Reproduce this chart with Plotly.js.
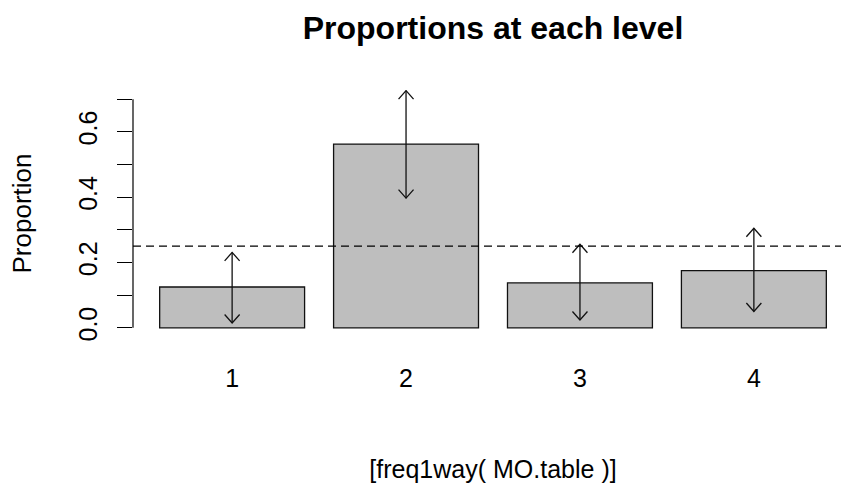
<!DOCTYPE html>
<html>
<head>
<meta charset="utf-8">
<script src="https://cdn.plot.ly/plotly-3.0.1.min.js"></script>
<style>
  html, body { margin: 0; padding: 0; overflow: hidden; background: #ffffff; }
  #chart { width: 860px; height: 487px; }
</style>
</head>
<body>
<div id="chart"></div>
<script>
// ---- data ----
var levels = ["1", "2", "3", "4"];
var proportions = [0.125, 0.5625, 0.1375, 0.175];
var ciLower = [0.015, 0.397, 0.024, 0.050];
var ciUpper = [0.231, 0.726, 0.256, 0.305];
var nullProportion = [0.25];
var yTickValues = [0, 0.1, 0.2, 0.3, 0.4, 0.5, 0.6, 0.7];
var yTickLabels = ["0.0", "", "0.2", "", "0.4", "", "0.6", ""];

// ---- layout constants (R barplot geometry: width 1, space 0.2) ----
var FIG_W = 860, FIG_H = 487;
var M = { l: 133, r: 7, t: 90, b: 150 };
var barWidth = 1, barSpace = 0.2;
var xCenters = levels.map(function (_, i) { return barSpace + barWidth / 2 + i * (barWidth + barSpace); });
var xLo = barSpace, xHi = levels.length * (barWidth + barSpace);
var xPad = 0.04 * (xHi - xLo);
var xRange = [xLo - xPad, xHi + xPad];
var yLo = 0, yHi = yTickValues[yTickValues.length - 1];
var yPad = 0.04 * (yHi - yLo);
var yRange = [yLo - yPad, yHi + yPad];

var pxPerX = (FIG_W - M.l - M.r) / (xRange[1] - xRange[0]);
var pxPerY = (FIG_H - M.t - M.b) / (yRange[1] - yRange[0]);
var headHalfW = 7.5 / pxPerX;   // arrow head half width (data units)
var headLen = 8.5 / pxPerY;     // arrow head length (data units)

var FONT = "Liberation Sans, Arial, sans-serif";

// arrows (code = 3: heads at both ends)
var ax = [], ay = [];
for (var i = 0; i < levels.length; i++) {
  var x = xCenters[i], lo = ciLower[i], hi = ciUpper[i];
  ax.push(x, x, null); ay.push(lo, hi, null);
  ax.push(x - headHalfW, x, x + headHalfW, null); ay.push(hi - headLen, hi, hi - headLen, null);
  ax.push(x - headHalfW, x, x + headHalfW, null); ay.push(lo + headLen, lo, lo + headLen, null);
}

var traces = [
  {
    type: "bar",
    x: xCenters,
    y: proportions,
    width: barWidth,
    marker: { color: "#BEBEBE", line: { color: "#111111", width: 1.3 } },
    hoverinfo: "skip",
    showlegend: false
  },
  {
    type: "scatter",
    mode: "lines",
    x: ax,
    y: ay,
    line: { color: "#111111", width: 1.3 },
    hoverinfo: "skip",
    showlegend: false,
    cliponaxis: false
  }
];

var layout = {
  width: FIG_W,
  height: FIG_H,
  margin: M,
  paper_bgcolor: "#ffffff",
  plot_bgcolor: "#ffffff",
  font: { family: FONT, size: 25, color: "#000000" },
  showlegend: false,
  title: {
    text: "<b>Proportions at each level</b>",
    font: { family: FONT, size: 32, color: "#000000" },
    xref: "paper", x: 0.5, xanchor: "center",
    yref: "container", y: 1 - 28 / FIG_H, yanchor: "middle"
  },
  xaxis: {
    range: xRange,
    showgrid: false, zeroline: false, showline: false,
    tickmode: "array", tickvals: xCenters, ticktext: levels,
    ticks: "outside", ticklen: 19, tickcolor: "rgba(0,0,0,0)",
    tickfont: { family: FONT, size: 25, color: "#000000" },
    title: { text: "[freq1way( MO.table )]", font: { family: FONT, size: 25, color: "#000000" }, standoff: 69 },
    automargin: false,
    fixedrange: true
  },
  yaxis: {
    range: yRange,
    showgrid: false, zeroline: false, showline: false,
    tickmode: "array", tickvals: yTickValues, ticktext: yTickLabels,
    ticks: "outside", ticklen: 15, tickwidth: 1, tickcolor: "#000000",
    ticklabelstandoff: 10,
    tickangle: -90,
    tickfont: { family: FONT, size: 25, color: "#000000" },
    title: { text: "Proportion", font: { family: FONT, size: 26, color: "#000000" }, standoff: 34 },
    automargin: false,
    fixedrange: true
  },
  shapes: [
    { type: "line", xref: "paper", yref: "y", x0: 0, x1: 0, y0: yTickValues[0], y1: yTickValues[yTickValues.length - 1],
      line: { color: "#000000", width: 1.2 } },
    { type: "line", xref: "paper", yref: "y", x0: 0, x1: 1, y0: nullProportion[0], y1: nullProportion[0],
      line: { color: "#000000", width: 1.3, dash: "8px,5px" } }
  ]
};

Plotly.newPlot("chart", traces, layout, { staticPlot: true, displayModeBar: false });
</script>
</body>
</html>
